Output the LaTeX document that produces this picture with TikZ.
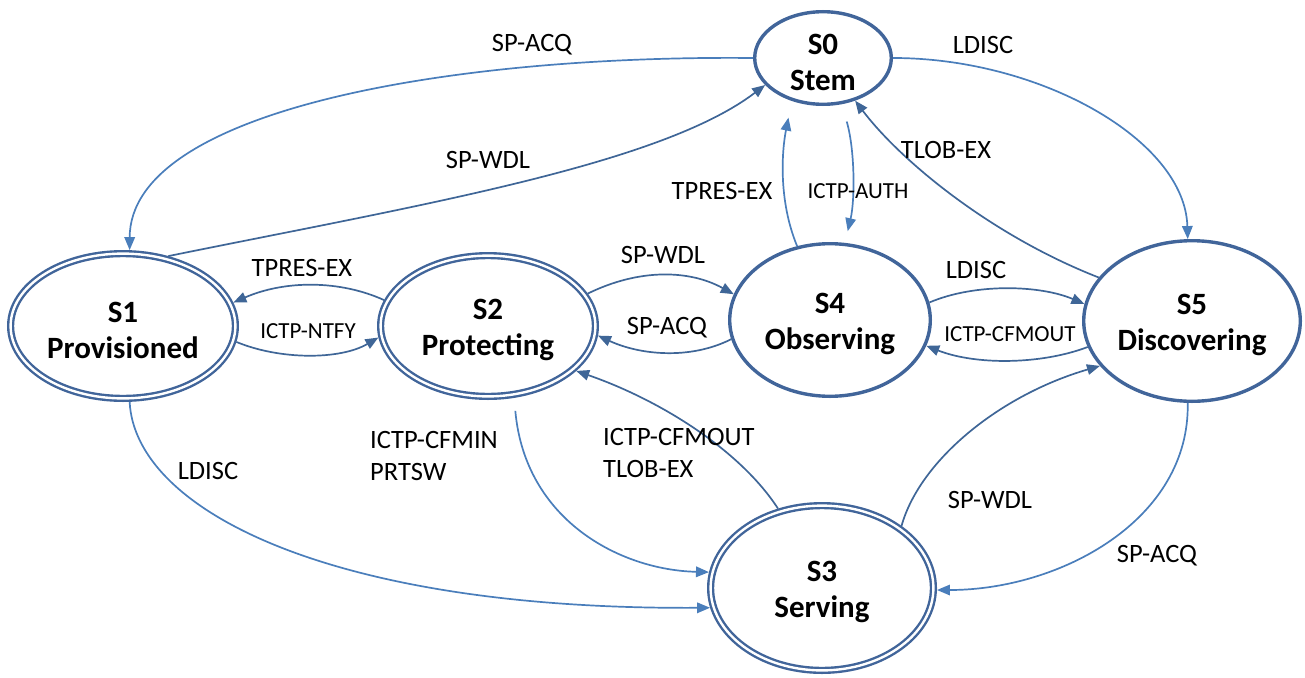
\documentclass[tikz,border=0pt]{standalone}
\usepackage{fontspec}
\setmainfont{Carlito}
\usetikzlibrary{shapes.geometric,arrows.meta}
\definecolor{nodeblue}{HTML}{41659A}
\definecolor{edgelight}{HTML}{4A7EBB}
\definecolor{edgedark}{HTML}{3F6697}
\tikzset{
  state/.style={ellipse, draw=nodeblue, line width=3.4pt, inner sep=0pt, outer sep=1.7pt},
  dstate/.style={ellipse, draw=nodeblue, line width=2.4pt, double=white, double distance=2.4pt, inner sep=0pt, outer sep=3.6pt},
  stext/.style={font=\bfseries\fontsize{31}{36}\selectfont, align=center, inner sep=0pt, yshift=-4pt},
  tr/.style={line width=1.7pt, -{Triangle[length=13pt,width=10.5pt]}},
  lbl/.style={font=\fontsize{26.5}{32.3}\selectfont, inner sep=0pt},
  slbl/.style={font=\fontsize{23}{28}\selectfont, inner sep=0pt},
}
\begin{document}
\begin{tikzpicture}[x=1pt,y=-1pt]
\useasboundingbox (0,0) rectangle (1305,677);
% states
\node[state, minimum width=136.6pt, minimum height=92.6pt, label={[stext]center:S0\\Stem}] (S0) at (823,58) {};
\node[dstate, minimum width=224.8pt, minimum height=144.8pt, label={[stext]center:S1\\Provisioned}] (S1) at (123,326) {};
\node[dstate, minimum width=214.8pt, minimum height=140.8pt, label={[stext]center:S2\\Protecting}] (S2) at (488,326) {};
\node[dstate, minimum width=222.8pt, minimum height=164.8pt, label={[stext]center:S3\\Serving}] (S3) at (822,588) {};
\node[state, minimum width=200.6pt, minimum height=152.6pt, label={[stext]center:S4\\Observing}] (S4) at (830,320) {};
\node[state, minimum width=216.6pt, minimum height=160.6pt, label={[stext]center:S5\\Discovering}] (S5) at (1192,321) {};
% transitions
\draw[tr, edgelight] (S0.180) .. controls (450,55) and (130,110) .. (S1.85);
\draw[tr, edgedark] (S1.57) .. controls (420,205) and (660,165) .. (S0.205);
\draw[tr, edgelight] (S0.0) .. controls (1040,58) and (1185,140) .. (S5.93);
\draw[tr, edgedark] (S5.155) .. controls (990,235) and (900,160) .. (S0.307);
\draw[tr, edgelight, shorten >=17pt] (S4.114) .. controls (778,200) and (782,150) .. (S0.234);
\draw[tr, edgelight, shorten <=18pt, shorten >=12pt] (S0.292) .. controls (855,150) and (855,200) .. (S4.79);
\draw[tr, edgedark] (S2.18) .. controls (640,268) and (690,270) .. (S4.165);
\draw[tr, edgedark] (S4.191) .. controls (690,360) and (640,355) .. (S2.-5);
\draw[tr, edgedark] (S4.10) .. controls (975,283) and (1040,285) .. (S5.171);
\draw[tr, edgedark] (S5.194) .. controls (1040,365) and (975,365) .. (S4.-15);
\draw[tr, edgedark] (S2.166) .. controls (340,280) and (285,280) .. (S1.12);
\draw[tr, edgedark] (S1.-8) .. controls (280,360) and (340,360) .. (S2.186);
\draw[tr, edgelight] (S1.275) .. controls (135,510) and (330,610) .. (S3.190);
\draw[tr, edgelight, shorten <=13pt] (S2.290) .. controls (525,520) and (620,570) .. (S3.172);
\draw[tr, edgedark] (S3.119) .. controls (740,450) and (660,400) .. (S2.-27);
\draw[tr, edgedark] (S3.38) .. controls (920,460) and (1000,395) .. (S5.206);
\draw[tr, edgelight] (S5.267) .. controls (1190,520) and (1060,590) .. (S3.-1);
% labels
\node[lbl] (l1) at (532,45) {SP-ACQ};
\node[lbl] (l2) at (488,160) {SP-WDL};
\node[lbl] (l3) at (983,45) {LDISC};
\node[lbl] (l4) at (946,150) {TLOB-EX};
\node[lbl] (l5) at (722,191) {TPRES-EX};
\node[slbl] (l6) at (858,191) {ICTP-AUTH};
\node[lbl] (l7) at (663,255) {SP-WDL};
\node[lbl] (l8) at (667,328) {SP-ACQ};
\node[lbl] (l9) at (976,270) {LDISC};
\node[slbl] (l10) at (1010,334) {ICTP-CFMOUT};
\node[lbl] (l11) at (302,268) {TPRES-EX};
\node[slbl] (l12) at (308,331) {ICTP-NTFY};
\node[lbl] (l13) at (208,471) {LDISC};
\node[lbl, align=left, anchor=west] (l14) at (370,456) {ICTP-CFMIN\\PRTSW};
\node[lbl, align=left, anchor=west] (l15) at (603,453) {ICTP-CFMOUT\\TLOB-EX};
\node[lbl] (l16) at (990,500) {SP-WDL};
\node[lbl] (l17) at (1157,556) {SP-ACQ};
\end{tikzpicture}
\end{document}
